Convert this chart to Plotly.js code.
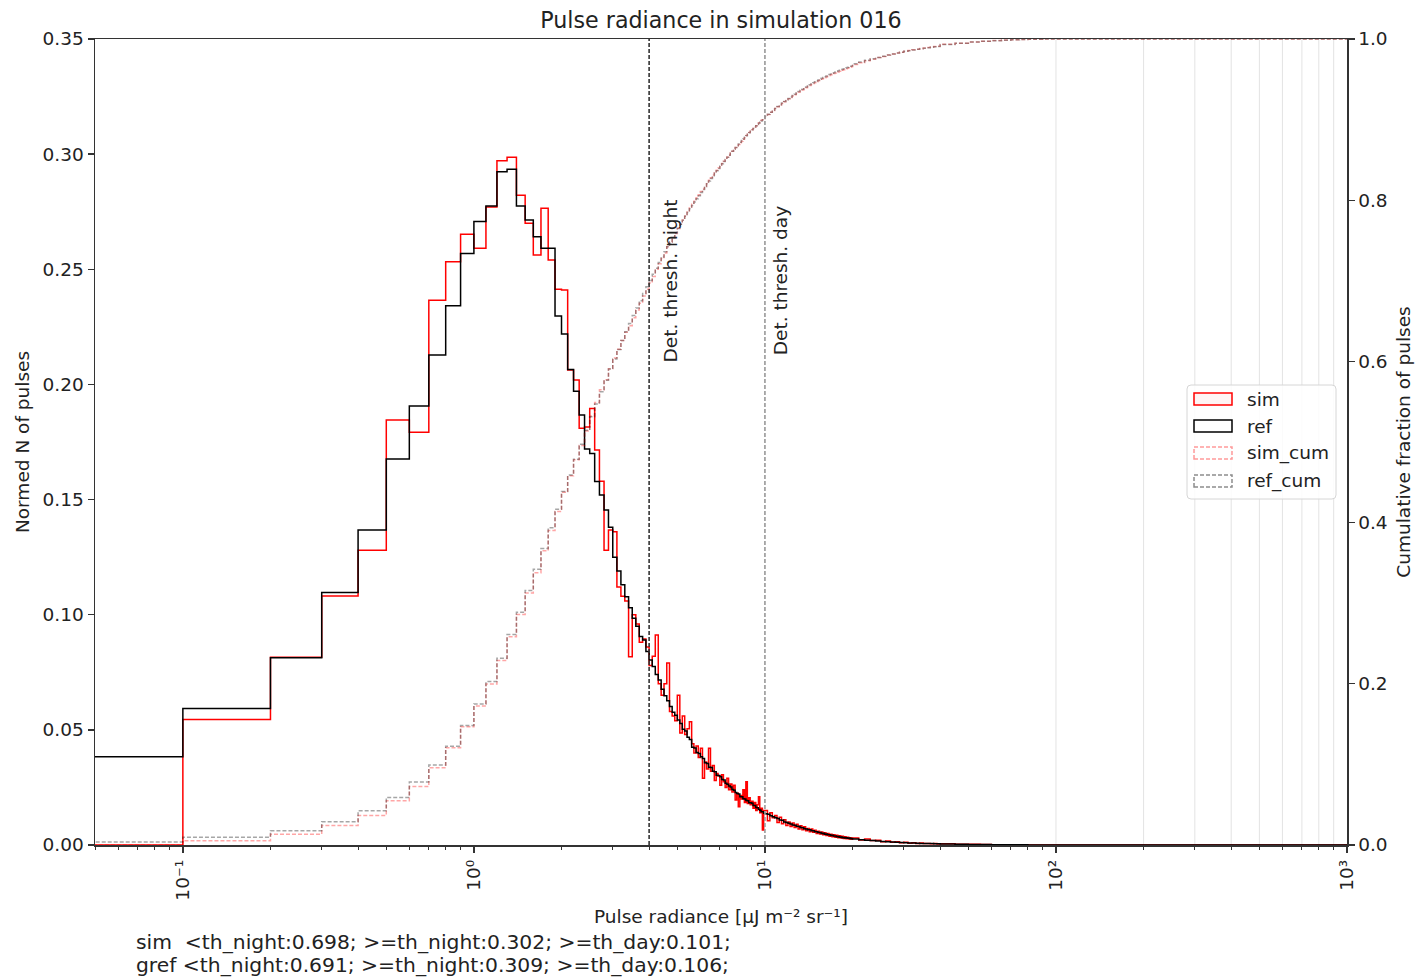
<!DOCTYPE html>
<html>
<head>
<meta charset="utf-8">
<script src="https://cdn.plot.ly/plotly-3.0.1.min.js"></script>
<style>html,body{margin:0;padding:0;background:#fff;}#chart{width:1417px;height:980px;}</style>
</head>
<body>
<div id="chart"></div>
<script>
// ---------------- DATA ----------------
// Histogram segments: bin start, bin width (categories of the x grid)
const segStarts = [0, 10, 20, 40, 100];
const segWidths = [0.1, 0.2, 1, 5, 900];

// ref ("gref") normed counts per bin
const refA = [ // 0 .. 10, width 0.1
  0.0383,0.0593,0.0813,0.1097,0.1368,0.1676,0.1906,0.2128,0.2342,0.2569,
  0.2707,0.2775,0.2924,0.2934,0.2775,0.2714,0.2641,0.2591,0.2591,0.2297,
  0.2219,0.2065,0.1970,0.1867,0.1720,0.1700,0.1578,0.1520,0.1455,0.1380,
  0.1250,0.1190,0.1130,0.1078,0.1030,0.0985,0.0950,0.0905,0.0890,0.0840,
  0.0803,0.0775,0.0740,0.0716,0.0676,0.0648,0.0626,0.0601,0.0576,0.0563,
  0.0543,0.0528,0.0503,0.0495,0.0468,0.0458,0.0425,0.0421,0.0402,0.0397,
  0.0383,0.0376,0.0357,0.0354,0.0338,0.0336,0.0320,0.0318,0.0303,0.0302,
  0.0296,0.0284,0.0282,0.0268,0.0264,0.0256,0.0252,0.0241,0.0238,0.0228,
  0.0224,0.0222,0.0210,0.0210,0.0201,0.0200,0.0193,0.0192,0.0184,0.0184,
  0.0181,0.0172,0.0171,0.0163,0.0162,0.0154,0.0151,0.0144,0.0144,0.0138
];
const refB = [ // 10 .. 20, width 0.2
  0.0136,0.0133,0.0127,0.0123,0.0118,0.0115,0.0109,0.0107,0.0100,0.0098,
  0.0094,0.0091,0.0087,0.0086,0.0081,0.0080,0.0076,0.0075,0.0071,0.0070,
  0.0066,0.0066,0.0062,0.0062,0.0058,0.0058,0.0054,0.0054,0.0050,0.0051,
  0.0047,0.0048,0.0044,0.0045,0.0041,0.0042,0.0039,0.0039,0.0036,0.0037,
  0.0034,0.0035,0.0032,0.0033,0.0030,0.0031,0.0029,0.0030,0.0027,0.0028
];
const refC = [ // 20 .. 40, width 1
  0.0026,0.0023,0.0021,0.0019,0.0017,0.0015,0.0014,0.0013,0.0012,0.0011,
  0.0010,0.0009,0.0009,0.0008,0.0007,0.0007,0.0006,0.0006,0.0005,0.0005
];
const refD = [ // 40 .. 100, width 5
  0.00045,0.00035,0.00027,0.00020,0.00015,0.00012,0.00009,0.00007,0.00005,0.00004,0.00003,0.00002
];
const refE = [0]; // 100 .. 1000

// sim normed counts per bin
const simA = [ // 0 .. 10, width 0.1
  0.0000,0.0545,0.0815,0.1081,0.1280,0.1845,0.1792,0.2366,0.2533,0.2652,
  0.2591,0.2770,0.2971,0.2986,0.2822,0.2700,0.2562,0.2765,0.2540,0.2413,
  0.2410,0.2063,0.2019,0.1810,0.1815,0.1896,0.1715,0.1580,0.1280,0.1368,
  0.1360,0.1120,0.1080,0.1060,0.0818,0.1000,0.0960,0.0880,0.0895,0.0860,
  0.0780,0.0820,0.0912,0.0700,0.0650,0.0700,0.0790,0.0580,0.0560,0.0540,
  0.0650,0.0486,0.0560,0.0480,0.0505,0.0535,0.0440,0.0400,0.0430,0.0380,
  0.0420,0.0290,0.0360,0.0330,0.0420,0.0320,0.0345,0.0280,0.0310,0.0300,
  0.0260,0.0305,0.0275,0.0250,0.0290,0.0240,0.0265,0.0230,0.0260,0.0195,
  0.0225,0.0166,0.0215,0.0200,0.0240,0.0185,0.0275,0.0180,0.0205,0.0175,
  0.0190,0.0160,0.0185,0.0150,0.0175,0.0210,0.0140,0.0160,0.0065,0.0150
];
const simB = [ // 10 .. 20, width 0.2
  0.0150,0.0105,0.0140,0.0118,0.0128,0.0098,0.0120,0.0092,0.0110,0.0085,
  0.0100,0.0080,0.0095,0.0076,0.0090,0.0070,0.0084,0.0066,0.0079,0.0062,
  0.0072,0.0058,0.0070,0.0055,0.0064,0.0050,0.0060,0.0048,0.0056,0.0044,
  0.0053,0.0041,0.0050,0.0038,0.0047,0.0036,0.0045,0.0034,0.0042,0.0031,
  0.0040,0.0030,0.0038,0.0028,0.0036,0.0027,0.0034,0.0026,0.0032,0.0025
];
const simC = [ // 20 .. 40, width 1
  0.0030,0.0022,0.0026,0.0019,0.0021,0.0014,0.0017,0.0012,0.0014,0.0010,
  0.0012,0.0008,0.0010,0.0007,0.0009,0.0006,0.0007,0.0005,0.0006,0.0004
];
const simD = [ // 40 .. 100, width 5
  0.00050,0.00030,0.00030,0.00020,0.00016,0.00010,0.00010,0.00006,0.00005,0.00003,0.00003,0.00001
];
const simE = [0];

const thresholds = [4, 10];
const thresholdLabels = ['Det. thresh. night', 'Det. thresh. day'];
const greyLines = [100, 200, 300, 400, 500, 600, 700, 800, 900];
const xTickVals = [0.1, 1, 10, 100, 1000];
const xTickText = ['10\u207b\u00b9', '10\u2070', '10\u00b9', '10\u00b2', '10\u00b3'];
const statsLines = [
  'sim\u00a0\u00a0&lt;th_night:0.698; &gt;=th_night:0.302; &gt;=th_day:0.101;',
  'gref &lt;th_night:0.691; &gt;=th_night:0.309; &gt;=th_day:0.106;'
];
const legendNames = ['sim', 'ref', 'sim_cum', 'ref_cum'];

// ---------------- BUILD ----------------
function buildBins(segVals) {
  const edges = [], widths = [], vals = [];
  segVals.forEach((vs, s) => {
    vs.forEach((v, i) => {
      edges.push(Math.round((segStarts[s] + i * segWidths[s]) * 1000) / 1000);
      widths.push(segWidths[s]);
      vals.push(v);
    });
  });
  const last = segVals.length - 1;
  edges.push(Math.round((segStarts[last] + segVals[last].length * segWidths[last]) * 1000) / 1000);
  return {edges, widths, vals};
}
const ref = buildBins([refA, refB, refC, refD, refE]);
const sim = buildBins([simA, simB, simC, simD, simE]);

function stepXY(b, yv) {
  // clip non-positive edge for log axis display
  const x = b.edges.map(e => e > 0 ? e : 1e-3);
  const y = yv.concat([yv[yv.length - 1]]);
  return {x: [x[0]].concat(x), y: [0].concat(y)};
}
function cumulative(b) {
  let tot = 0;
  b.vals.forEach((v, i) => tot += v * b.widths[i]);
  let c = 0;
  return b.vals.map((v, i) => { c += v * b.widths[i]; return c / tot; });
}

const simStep = stepXY(sim, sim.vals);
const refStep = stepXY(ref, ref.vals);
const simCum = stepXY(sim, cumulative(sim));
const refCum = stepXY(ref, cumulative(ref));

const traces = [
  {x: simStep.x, y: simStep.y, mode: 'lines', line: {shape: 'hv', color: '#ff0000', width: 1.5}, name: 'sim', showlegend: false, hoverinfo: 'skip'},
  {x: refStep.x, y: refStep.y, mode: 'lines', line: {shape: 'hv', color: '#000000', width: 1.5}, name: 'ref', showlegend: false, hoverinfo: 'skip'},
  {x: simCum.x, y: simCum.y, yaxis: 'y2', mode: 'lines', line: {shape: 'hv', color: 'rgba(255,0,0,0.35)', width: 1.5, dash: '4px,2px'}, name: 'sim_cum', showlegend: false, hoverinfo: 'skip'},
  {x: refCum.x, y: refCum.y, yaxis: 'y2', mode: 'lines', line: {shape: 'hv', color: 'rgba(0,0,0,0.35)', width: 1.5, dash: '4px,2px'}, name: 'ref_cum', showlegend: false, hoverinfo: 'skip'}
];

// minor ticks 2..9 per decade
const minorVals = [];
[0.01, 0.1, 1, 10, 100].forEach(d => { for (let k = 2; k <= 9; k++) minorVals.push(d * k); });

// layout geometry helpers (pixels -> paper)
const L = 95, R = 1347, T = 39, B = 845;
const px = v => (v - L) / (R - L);
const py = v => (B - v) / (B - T);

const FONT = 'DejaVu Sans, Liberation Sans, sans-serif';
const FS = 18.5;
const shapes = [];
greyLines.forEach(g => shapes.push({type: 'line', xref: 'x', yref: 'paper', x0: g, x1: g, y0: 0, y1: 1, layer: 'below', line: {color: '#e3e3e3', width: 1}}));
shapes.push({type: 'line', xref: 'x', yref: 'paper', x0: thresholds[0], x1: thresholds[0], y0: 0, y1: 1, line: {color: '#333', width: 1.6, dash: '4px,2px'}});
shapes.push({type: 'line', xref: 'x', yref: 'paper', x0: thresholds[1], x1: thresholds[1], y0: 0, y1: 1, line: {color: '#999', width: 1.6, dash: '4px,2px'}});

// custom legend (rounded frame)
function roundedRectPath(x0, y0, x1, y1, r) {
  const P = (x, y) => px(x) + ',' + py(y);
  return 'M' + P(x0 + r, y0) + ' L' + P(x1 - r, y0) + ' Q' + P(x1, y0) + ' ' + P(x1, y0 + r) +
    ' L' + P(x1, y1 - r) + ' Q' + P(x1, y1) + ' ' + P(x1 - r, y1) +
    ' L' + P(x0 + r, y1) + ' Q' + P(x0, y1) + ' ' + P(x0, y1 - r) +
    ' L' + P(x0, y0 + r) + ' Q' + P(x0, y0) + ' ' + P(x0 + r, y0) + ' Z';
}
shapes.push({type: 'path', xref: 'paper', yref: 'paper', path: roundedRectPath(1187, 385, 1336, 499, 4), fillcolor: 'rgba(255,255,255,0.85)', line: {color: '#d6d6d6', width: 1}});
const legRows = [399, 426, 453, 481];
const legStyles = [
  {line: {color: '#ff0000', width: 1.5}, fill: 'rgba(255,220,220,0.3)'},
  {line: {color: '#000', width: 1.5}, fill: 'rgba(0,0,0,0)'},
  {line: {color: 'rgba(255,0,0,0.4)', width: 1.5, dash: '4px,2px'}, fill: 'rgba(0,0,0,0)'},
  {line: {color: 'rgba(0,0,0,0.45)', width: 1.5, dash: '4px,2px'}, fill: 'rgba(0,0,0,0)'}
];
legRows.forEach((r, i) => {
  shapes.push({type: 'rect', xref: 'paper', yref: 'paper', x0: px(1194), x1: px(1232), y0: py(r + 6), y1: py(r - 6), fillcolor: legStyles[i].fill, line: legStyles[i].line});
});

const annotations = [];
legRows.forEach((r, i) => annotations.push({xref: 'paper', yref: 'paper', x: px(1245), y: py(r), xanchor: 'left', yanchor: 'middle', text: legendNames[i], showarrow: false, font: {family: FONT, size: FS, color: '#222'}}));
annotations.push({xref: 'x', yref: 'y', x: Math.log10(thresholds[0]), y: 0.245, xanchor: 'left', yanchor: 'middle', xshift: 9, textangle: -90, text: thresholdLabels[0], showarrow: false, font: {family: FONT, size: FS, color: '#222'}});
annotations.push({xref: 'x', yref: 'y', x: Math.log10(thresholds[1]), y: 0.245, xanchor: 'left', yanchor: 'middle', xshift: 3, textangle: -90, text: thresholdLabels[1], showarrow: false, font: {family: FONT, size: FS, color: '#222'}});
statsLines.forEach((t, i) => annotations.push({xref: 'paper', yref: 'paper', x: px(134), y: py(942 + 23 * i), xanchor: 'left', yanchor: 'middle', text: t, showarrow: false, font: {family: FONT, size: 20.3, color: '#222'}}));

const axisCommon = {
  showgrid: false, zeroline: false, showline: true, linecolor: '#333', linewidth: 1.5,
  ticks: 'outside', ticklen: 6, tickwidth: 1.3, tickcolor: '#333',
  tickfont: {family: FONT, size: FS, color: '#222'}
};

const layout = {
  width: 1417, height: 980,
  margin: {l: L, r: 1417 - R, t: T, b: 980 - B, pad: 0},
  paper_bgcolor: '#fff', plot_bgcolor: '#fff',
  showlegend: false,
  font: {family: FONT, color: '#222'},
  title: {text: 'Pulse radiance in simulation 016', font: {family: FONT, size: 22.2, color: '#222'}, x: 0.5, xref: 'paper', xanchor: 'center', y: 1 - 20 / 980, yref: 'container', yanchor: 'middle'},
  xaxis: Object.assign({}, axisCommon, {
    type: 'log', range: [Math.log10(0.0499), 3], mirror: true,
    tickmode: 'array', tickvals: xTickVals, ticktext: xTickText, tickangle: -90,
    minor: {tickmode: 'array', tickvals: minorVals, ticks: 'outside', ticklen: 3.5, tickwidth: 1, tickcolor: '#333', showgrid: false},
    title: {text: 'Pulse radiance [\u00b5J m\u207b\u00b2 sr\u207b\u00b9]', font: {family: FONT, size: FS, color: '#222'}, standoff: 10}
  }),
  yaxis: Object.assign({}, axisCommon, {
    range: [0, 0.35], dtick: 0.05, tick0: 0, tickformat: '.2f', mirror: false,
    title: {text: 'Normed N of pulses', font: {family: FONT, size: FS, color: '#222'}, standoff: 8}
  }),
  yaxis2: Object.assign({}, axisCommon, {
    range: [0, 1], dtick: 0.2, tick0: 0, tickformat: '.1f', overlaying: 'y', side: 'right',
    title: {text: 'Cumulative fraction of pulses', font: {family: FONT, size: FS, color: '#222'}, standoff: 10}
  }),
  shapes: shapes,
  annotations: annotations
};

Plotly.newPlot('chart', traces, layout, {staticPlot: true, displayModeBar: false});
</script>
</body>
</html>
